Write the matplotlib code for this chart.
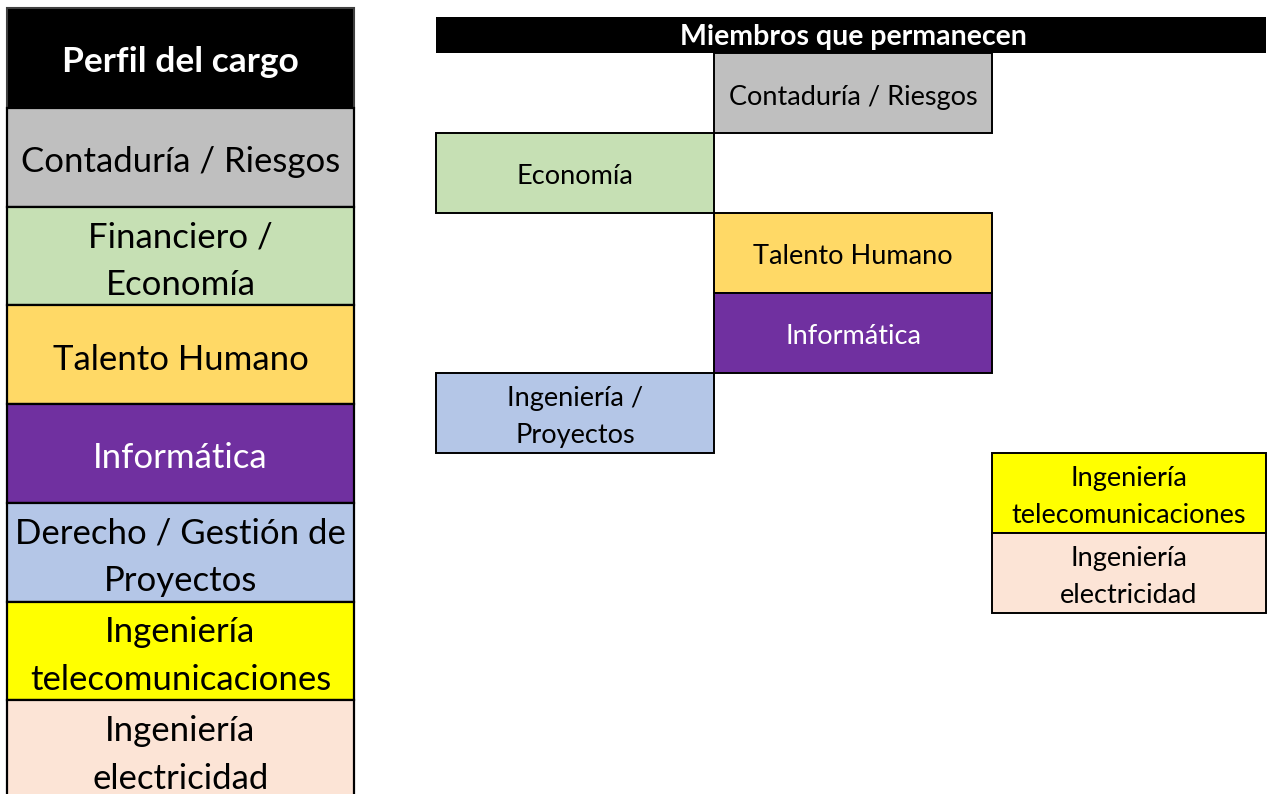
import matplotlib
matplotlib.use("Agg")
import matplotlib.pyplot as plt
from matplotlib.patches import Rectangle

# ---- data ----
left_header = "Perfil del cargo"
left_labels = ["Contaduría / Riesgos", "Financiero /\nEconomía", "Talento Humano",
               "Informática", "Derecho / Gestión de\nProyectos",
               "Ingeniería\ntelecomunicaciones", "Ingeniería\nelectricidad"]
left_colors = ["#BFBFBF", "#C6E0B4", "#FFD966", "#7030A0", "#B4C6E7", "#FFFF00", "#FCE4D6"]
left_text_colors = ["black", "black", "black", "white", "black", "black", "black"]

right_header = "Miembros que permanecen"
right_labels = ["Contaduría / Riesgos", "Economía", "Talento Humano", "Informática",
                "Ingeniería /\nProyectos", "Ingeniería\ntelecomunicaciones",
                "Ingeniería\nelectricidad"]
right_cols = [1, 0, 1, 1, 0, 2, 2]
right_rows = [0, 1, 2, 3, 4, 5, 6]
right_colors = ["#BFBFBF", "#C6E0B4", "#FFD966", "#7030A0", "#B4C6E7", "#FFFF00", "#FCE4D6"]
right_text_colors = ["black", "black", "black", "white", "black", "black", "black"]

FONT = ["Lato", "DejaVu Sans"]

fig = plt.figure(figsize=(12.68, 7.94), dpi=100)
ax = fig.add_axes([0, 0, 1, 1])
ax.set_xlim(0, 1268)
ax.set_ylim(794, 0)
ax.axis("off")

def draw_lines(x, yc, text, spacing, **kw):
    lines = text.split("\n")
    n = len(lines)
    for i, ln in enumerate(lines):
        y = yc + (i - (n - 1) / 2) * spacing
        ax.text(x, y, ln, ha="center", va="center", family=FONT, **kw)

# ---- left table ----
lx0, lx1 = 7, 354
hy0, hy1 = 8, 108
rh = 98.7
ax.add_patch(Rectangle((lx0, hy0), lx1 - lx0, hy1 - hy0, facecolor="black",
                       edgecolor="#404040", lw=1.5, zorder=2))
draw_lines((lx0 + lx1) / 2, (hy0 + hy1) / 2 + 4, left_header, 48,
           fontsize=25.5, fontweight="bold", color="white", zorder=5)
for i, (lab, col, tc) in enumerate(zip(left_labels, left_colors, left_text_colors)):
    y0 = hy1 + i * rh
    ax.add_patch(Rectangle((lx0, y0), lx1 - lx0, rh, facecolor=col,
                           edgecolor="black", lw=1.6, zorder=2))
    draw_lines((lx0 + lx1) / 2, y0 + rh / 2 + 5, lab, 48,
               fontsize=25, color=tc, zorder=5)

# ---- right table ----
rx0, rx1 = 436, 1266
ax.add_patch(Rectangle((rx0, 17), rx1 - rx0, 36, facecolor="black",
                       edgecolor="none", zorder=2))
ax.text((rx0 + rx1) / 2 + 2, 37, right_header, ha="center", va="center",
        family=FONT, fontsize=20.5, fontweight="bold", color="white", zorder=5)
col_edges = [436, 714, 992, 1266]
row_top = 53
row_h = 80
for lab, c, r, col, tc in zip(right_labels, right_cols, right_rows, right_colors,
                              right_text_colors):
    x0 = col_edges[c]
    w = col_edges[c + 1] - x0
    y0 = row_top + r * row_h
    ax.add_patch(Rectangle((x0, y0), w, row_h, facecolor=col,
                           edgecolor="black", lw=1.4, zorder=3))
    draw_lines(x0 + w / 2, y0 + row_h / 2 + 4, lab, 37,
               fontsize=19.5, color=tc, zorder=5)

fig.savefig("out.png", dpi=100, facecolor="white")
